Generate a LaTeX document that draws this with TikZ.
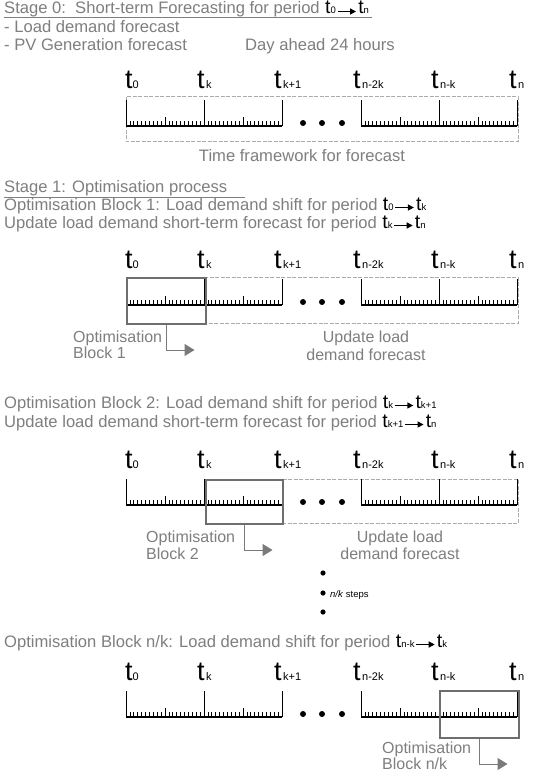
\documentclass[tikz,border=0pt]{standalone}
\usepackage{fontspec}
\setmainfont{Liberation Sans}
\usetikzlibrary{arrows.meta}
\definecolor{txtgray}{HTML}{7F7F7F}
\definecolor{boxgray}{HTML}{6E6E6E}
\definecolor{dashgray}{HTML}{ABABAB}
\definecolor{arrowgray}{HTML}{7A7A7A}
\newcommand\hdrfont{\fontsize{16.6}{18}\selectfont}
\newcommand\lblfont{\fontsize{16}{17}\selectfont}
\newcommand\bigtfont{\fontsize{27}{27}\selectfont}
\newcommand\subtfont{\fontsize{11}{11}\selectfont}
\newcommand\midtfont{\fontsize{19.5}{19.5}\selectfont}
\newcommand\midsubfont{\fontsize{9.5}{9.5}\selectfont}
\newcommand\hdrt[1]{{\midtfont t}{\midsubfont #1}}
\newcommand\periodpair[3]{%
  \node[tlab, anchor=base west] (#1-s) at ([xshift=5pt]#1.base east) {\hdrt{#2}};
  \node[tlab, anchor=base west] (#1-e) at ([xshift=22pt]#1-s.base east) {\hdrt{#3}};
  \draw[hdrarrow] ([xshift=1.5pt,yshift=2.5pt]#1-s.base east) -- ([xshift=-2pt,yshift=2.5pt]#1-e.base west);
}
\tikzset{
  hdr/.style={font=\hdrfont, text=txtgray, inner sep=0pt},
  lbl/.style={font=\lblfont, text=txtgray, inner sep=0pt},
  tlab/.style={inner sep=0pt, text=black},
  hdrarrow/.style={-{Triangle[length=6pt,width=6pt]}, line width=1.3pt, black},
  hdrline/.style={draw=txtgray, line width=0.9pt},
  rulerline/.style={line width=1.2pt, black},
  tickline/.style={line width=0.7pt, black},
  framebox/.style={draw=dashgray, dash pattern=on 4pt off 1.5pt, line width=1pt},
  blockbox/.style={draw=boxgray, line width=2pt, inner sep=0pt, anchor=north west},
  blockarrow/.style={draw=arrowgray, line width=1pt, -{Triangle[length=10pt,width=12pt]}},
  pics/timeruler/.style={code={
    \foreach \s in {126,361}{
      \draw[rulerline] (\s,0) -- ({\s+156},0);
      \foreach \i in {0,...,40}{
        \pgfmathsetmacro\h{mod(\i,20)==0 ? 26 : (mod(\i,10)==0 ? 9 : 5)}
        \draw[tickline] ({\s+\i*3.9},0) -- ({\s+\i*3.9},-\h);
      }
    }
    \foreach \x in {303,322,342} \fill (\x,-3) circle[radius=3];
    \node[tlab, anchor=base west] (-t0) at (125,-37) {{\bigtfont t}{\subtfont 0}};
    \foreach \x/\s/\n in {205/k/1, 282/k+1/2, 361/n-2k/3, 439/n-k/4, 517/n/5}
      \node[tlab, anchor=base west] (-t\n) at (\x-0.5,-37) {\makebox[0pt][r]{\bigtfont t}\hspace{1.5pt}{\subtfont\s}};
  }}
}
\begin{document}
\begin{tikzpicture}[x=1pt, y=-1pt]
\useasboundingbox[fill=white] (0,0) rectangle (535,778);

% ---------- Stage 0 ----------
\node[hdr, anchor=base west] (h0) at (4,14) {Stage 0:\ \ Short-term Forecasting for period};
\periodpair{h0}{0}{n}
\draw[hdrline] (4,17) -- (372,17);
\node[hdr, anchor=base west] (h0a) at (4,33) {- Load demand forecast};
\node[hdr, anchor=base west] (h0b) at (4,51) {- PV Generation forecast};
\node[hdr, anchor=base west] (h0c) at (245,51) {Day ahead 24 hours};

\draw[framebox] (126,97) rectangle (518,142);
\pic (r1) at (0,126) {timeruler};
\node[hdr, anchor=base] (tf) at (302,161) {Time framework for forecast};

% ---------- Stage 1 ----------
\node[hdr, anchor=base west] (h1) at (4,192) {Stage 1: Optimisation process};
\draw[hdrline] (4,197) -- (245,197);
\node[hdr, anchor=base west] (h1a) at (4,210) {Optimisation Block 1: Load demand shift for period};
\periodpair{h1a}{0}{k}
\node[hdr, anchor=base west] (h1b) at (4,228) {Update load demand short-term forecast for period};
\periodpair{h1b}{k}{n}

\draw[framebox] (205,277) rectangle (518,323);
\pic (r2) at (0,305) {timeruler};
\node[blockbox, minimum width=79pt, minimum height=46pt] (b1) at (126,277) {};
\coordinate (b1end) at ([xshift=28pt,yshift=-25pt]b1.south);
\draw[blockarrow] (b1.south) |- (b1end);
\node[lbl, anchor=base west] (o1a) at (73,342) {Optimisation};
\node[lbl, anchor=base west] (o1b) at (73,358) {Block 1};
\node[lbl, anchor=base] (u1a) at (366,342) {Update load};
\node[lbl, anchor=base] (u1b) at (366,360) {demand forecast};

% ---------- Block 2 ----------
\node[hdr, anchor=base west] (h2a) at (4,408) {Optimisation Block 2: Load demand shift for period};
\periodpair{h2a}{k}{k+1}
\node[hdr, anchor=base west] (h2b) at (4,427) {Update load demand short-term forecast for period};
\periodpair{h2b}{k+1}{n}

\draw[framebox] (282,479) rectangle (518,523);
\pic (r3) at (0,505) {timeruler};
\node[blockbox, minimum width=77pt, minimum height=44pt] (b2) at (205,479) {};
\coordinate (b2end) at ([xshift=28pt,yshift=-25pt]b2.south);
\draw[blockarrow] (b2.south) |- (b2end);
\node[lbl, anchor=base west] (o2a) at (146,542) {Optimisation};
\node[lbl, anchor=base west] (o2b) at (146,559) {Block 2};
\node[lbl, anchor=base] (u2a) at (400,542) {Update load};
\node[lbl, anchor=base] (u2b) at (400,559) {demand forecast};

\foreach \y/\n in {573/1,593/2,612/3} \fill (323,\y) circle[radius=2.6];
\node[tlab, anchor=base west, font=\fontsize{9.5}{10}\selectfont] (steps) at (330,597) {\textit{n/k} steps};

% ---------- Block n/k ----------
\node[hdr, anchor=base west] (h3a) at (4,647) {Optimisation Block n/k: Load demand shift for period};
\periodpair{h3a}{n-k}{k}

\pic (r4) at (0,717) {timeruler};
\node[blockbox, minimum width=79pt, minimum height=47pt] (b3) at (439,690) {};
\coordinate (b3end) at ([xshift=28pt,yshift=-25pt]b3.south);
\draw[blockarrow] (b3.south) |- (b3end);
\node[lbl, anchor=base west] (o3a) at (382,753) {Optimisation};
\node[lbl, anchor=base west] (o3b) at (382,769) {Block n/k};
\end{tikzpicture}
\end{document}
